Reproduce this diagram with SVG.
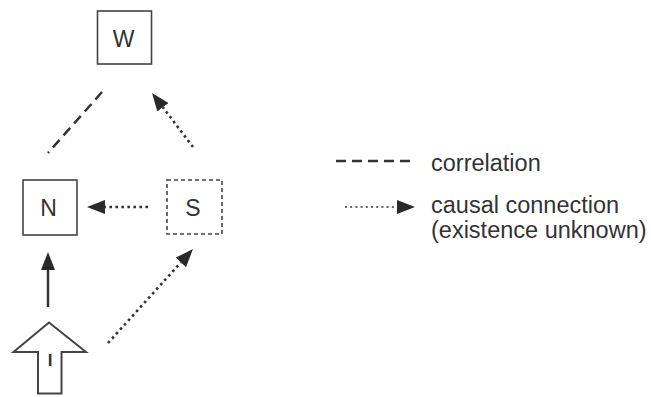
<svg xmlns="http://www.w3.org/2000/svg" width="651" height="397" viewBox="0 0 651 397">
<style>
.box{fill:#fff;stroke:#444;stroke-width:1.6}
.dbox{fill:#fff;stroke:#444;stroke-width:1.6;stroke-dasharray:4 3}
.lbl{font-family:"Liberation Sans",Arial,sans-serif;font-size:23px;fill:#333;text-anchor:middle}
.leg{font-family:"Liberation Sans",Arial,sans-serif;font-size:23.5px;fill:#333}
.dash{stroke:#333;stroke-width:2.5;fill:none;stroke-dasharray:10 6}
.dot{stroke:#333;stroke-width:2.6;fill:none;stroke-dasharray:2.6 3.4}
.solid{stroke:#333;stroke-width:2.5;fill:none}
.fdot{stroke:#333;stroke-width:1.3;fill:none;stroke-dasharray:2 3.2}
</style>
<defs>
<marker id="ah" viewBox="0 0 18 14" markerWidth="18" markerHeight="14" refX="0" refY="7" orient="auto" markerUnits="userSpaceOnUse">
<path d="M0,0 L18,7 L0,14 Z" fill="#2a2a2a"/>
</marker>
</defs>
<g id="connectors">
<line class="dash" x1="102" y1="92" x2="48" y2="153"/>
<line class="dot" x1="193" y1="147" x2="162.9" y2="107.3" marker-end="url(#ah)"/>
<line class="dot" x1="148" y1="207" x2="105" y2="207" marker-end="url(#ah)"/>
<line class="solid" x1="48" y1="307" x2="48" y2="270" marker-end="url(#ah)"/>
<line class="dot" x1="108" y1="343" x2="180.9" y2="262.4" marker-end="url(#ah)"/>
</g>
<g id="node-W">
<rect class="box" x="97.5" y="11" width="54" height="53"/>
<text class="lbl" x="123.5" y="47">W</text>
</g>
<g id="node-N">
<rect class="box" x="23" y="180" width="54" height="55"/>
<text class="lbl" x="48.5" y="215.5">N</text>
</g>
<g id="node-S">
<rect class="dbox" x="167" y="180" width="55" height="54"/>
<text class="lbl" x="193" y="215.5">S</text>
</g>
<g id="node-I">
<polygon points="49,322.5 13.5,352 38,352 38,393.5 61.5,393.5 61.5,352 86,352" fill="#fff" stroke="#444" stroke-width="2"/>
<text class="lbl" x="50" y="366" style="font-size:17px;font-weight:bold">I</text>
</g>
<g id="legend">
<line class="dash" x1="336" y1="161" x2="410" y2="161"/>
<text class="leg" x="431" y="171">correlation</text>
<line class="fdot" x1="345" y1="207" x2="397" y2="207" marker-end="url(#ah)"/>
<text class="leg" x="431" y="212.5">causal connection</text>
<text class="leg" x="431" y="238">(existence unknown)</text>
</g>
</svg>
